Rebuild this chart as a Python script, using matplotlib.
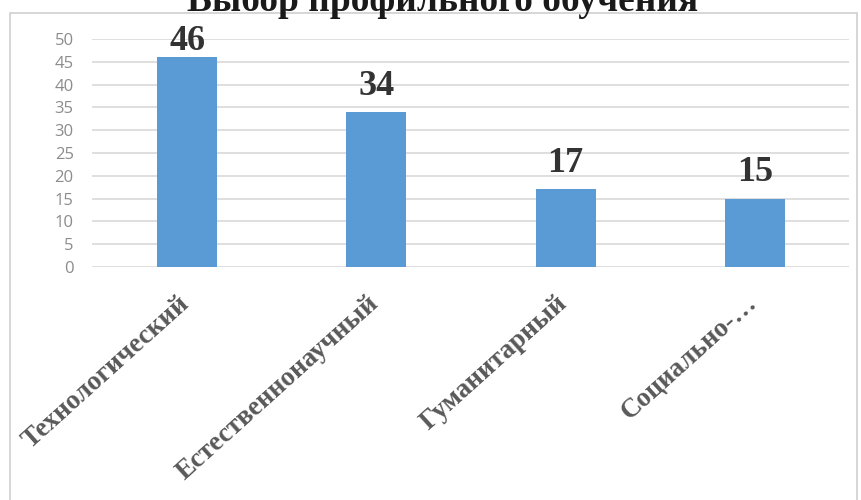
import matplotlib
matplotlib.use("Agg")
import matplotlib.pyplot as plt
from matplotlib.patches import Rectangle

title = "Выбор профильного обучения"
categories = ["Технологический", "Естественнонаучный", "Гуманитарный", "Социально-…"]
values = [46, 34, 17, 15]
yticks = [0, 5, 10, 15, 20, 25, 30, 35, 40, 45, 50]

W, H = 862, 500
fig = plt.figure(figsize=(W / 100, H / 100), dpi=100)
fig.patch.set_facecolor("white")

# outer chart frame
fig.patches.append(Rectangle((10 / W, -0.05), (857 - 10) / W, (H - 13) / H + 0.05,
                             transform=fig.transFigure, fill=False,
                             edgecolor="#d0d0d0", linewidth=1.2))

ax = fig.add_axes([92.5 / W, (H - 267) / H, (849.5 - 92.5) / W, (267 - 39) / H])
x = list(range(len(categories)))
ax.bar(x, values, width=0.317, color="#5b9bd5", zorder=3)
ax.set_xlim(-0.5, len(categories) - 0.5)
ax.set_ylim(0, 50)
ax.set_yticks(yticks)
ax.set_yticklabels([str(t) for t in yticks], fontsize=12, color="#8c8c8c",
                   family="Open Sans")
ax.tick_params(axis="y", length=0, pad=13.5)
ax.tick_params(axis="x", length=0)
ax.grid(axis="y", color="#d9d9d9", linewidth=1.2, zorder=0)
for s in ax.spines.values():
    s.set_visible(False)

ax.set_xticks(x)
ax.set_xticklabels([""] * len(categories))
for xi, cat in zip(x, categories):
    ax.annotate(cat, (xi, 0), xycoords=("data", "axes fraction"),
                xytext=(-7, -17), textcoords="offset points",
                rotation=42, ha="right", va="top", rotation_mode="anchor",
                fontsize=19.5, fontweight="bold", family="Liberation Serif",
                color="#595959", annotation_clip=False)

# value labels above bars (Excel keeps the tallest one inside the plot area)
for xi, v in zip(x, values):
    ax.text(xi, min(v + 3.8, 47.6), str(v), ha="center", va="baseline",
            fontsize=26, fontweight="bold", family="Liberation Serif",
            color="#333333", clip_on=False)

fig.text(443 / W, (H - 11) / H, title, ha="center", va="baseline",
         fontsize=27, fontweight="bold", family="Liberation Serif", color="#1a1a1a")

fig.savefig("out.png", dpi=100, facecolor="white")
